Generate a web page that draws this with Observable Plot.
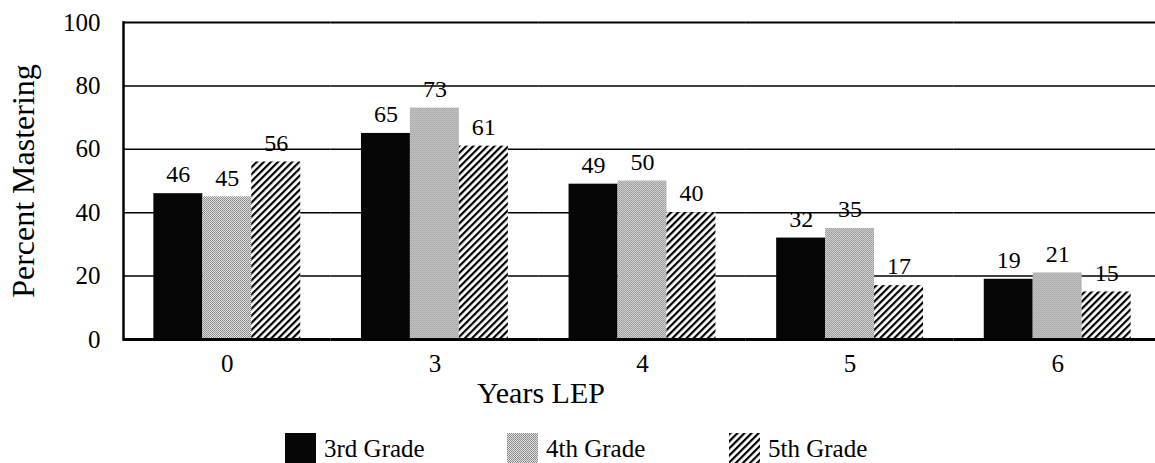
<!DOCTYPE html>
<html>
<head>
<meta charset="utf-8">
<script src="https://cdn.jsdelivr.net/npm/d3@7"></script>
<script src="https://cdn.jsdelivr.net/npm/@observablehq/plot@0.6"></script>
<style>
  html, body { margin: 0; padding: 0; background: #fff; }
  #wrap { width: 1155px; height: 463px; overflow: hidden; font-family: "Liberation Serif", serif; color: #000; }
  #chart svg { display: block; }
  #chart svg, #chart svg text { font-family: "Liberation Serif", serif !important; }
  #xlabel { width: 1082px; text-align: center; font-size: 30px; line-height: 30px; margin-top: 3px; height: 30px; }
  #legend { display: flex; padding-left: 285px; margin-top: 25px; height: 31px; }
  .item { display: flex; align-items: center; width: 222px; font-size: 25px; }
  .item svg { display: block; margin-right: 8px; }
</style>
</head>
<body>
<div id="wrap">
  <div id="chart"></div>
  <div id="xlabel">Years LEP</div>
  <div id="legend"></div>
</div>
<script>
const years = ["0", "3", "4", "5", "6"];
const grades = ["3rd Grade", "4th Grade", "5th Grade"];
const grade3 = [46, 65, 49, 32, 19];
const grade4 = [45, 73, 50, 35, 21];
const grade5 = [56, 61, 40, 17, 15];
const yTicks = [0, 20, 40, 60, 80, 100];
const fills = ["#060606", "url(#stipple)", "url(#hatch)"];

const series = [grade3, grade4, grade5];
const data = years.flatMap((yr, i) => grades.map((g, j) => ({year: yr, grade: g, value: series[j][i]})));

const chart = Plot.plot({
  width: 1155,
  height: 375,
  marginLeft: 123,
  marginRight: 0,
  marginTop: 22,
  marginBottom: 36,
  style: {fontFamily: "Liberation Serif", fontSize: "25px", color: "#000", background: "#fff", overflow: "visible"},
  fx: {domain: years, range: [123, 1161], padding: 0, round: false, label: null},
  x: {domain: grades, axis: null, paddingInner: 0, paddingOuter: 0.62, round: false},
  y: {domain: [0, 100], label: null},
  color: {domain: grades, range: fills},
  marks: [
    Plot.ruleY(yTicks.filter(d => d > 0 && d < 100), {stroke: "#000", strokeWidth: 1.5}),
    Plot.ruleY(yTicks.filter(d => d === 100), {stroke: "#000", strokeWidth: 2.2}),
    Plot.barY(data, {fx: "year", x: "grade", y: "value", fill: "grade"}),
    Plot.text(data, {fx: "year", x: "grade", y: "value", text: "value", dy: -19, fontSize: 24, fill: "#000"}),
    Plot.ruleY([0], {stroke: "#000", strokeWidth: 3}),
    Plot.axisY({ticks: yTicks, tickSize: 0, tickPadding: 23, fontSize: 25, label: null}),
    Plot.axisY({ticks: [], tickSize: 0, fontSize: 32, label: "Percent Mastering", labelArrow: "none", labelAnchor: "center", labelOffset: 112}),
    Plot.axisFx({anchor: "bottom", tickSize: 0, tickPadding: 15, fontSize: 25, label: null}),
    Plot.frame({anchor: "left", facetAnchor: "left", stroke: "#000", strokeWidth: 2.5})
  ]
});

function addDefs(svgSel) {
  const defs = svgSel.insert("defs", ":first-child");
  const st = defs.append("pattern").attr("id", "stipple").attr("patternUnits", "userSpaceOnUse").attr("width", 2).attr("height", 2);
  st.append("rect").attr("width", 2).attr("height", 2).attr("fill", "#e0e0e0");
  st.append("rect").attr("width", 1).attr("height", 1).attr("fill", "#858585");
  st.append("rect").attr("x", 1).attr("y", 1).attr("width", 1).attr("height", 1).attr("fill", "#959595");
  const h = defs.append("pattern").attr("id", "hatch").attr("patternUnits", "userSpaceOnUse").attr("width", 5).attr("height", 5).attr("patternTransform", "rotate(45)");
  h.append("rect").attr("width", 5).attr("height", 5).attr("fill", "#fff");
  h.append("rect").attr("width", 2.2).attr("height", 5).attr("fill", "#000");
}
addDefs(d3.select(chart));
document.getElementById("chart").appendChild(chart);

const legend = d3.select("#legend");
grades.forEach((g, j) => {
  const it = legend.append("div").attr("class", "item");
  const sw = it.append("svg").attr("width", 31).attr("height", 31);
  sw.append("rect").attr("width", 31).attr("height", 31).attr("fill", fills[j]);
  it.append("span").text(g);
});
</script>
</body>
</html>
